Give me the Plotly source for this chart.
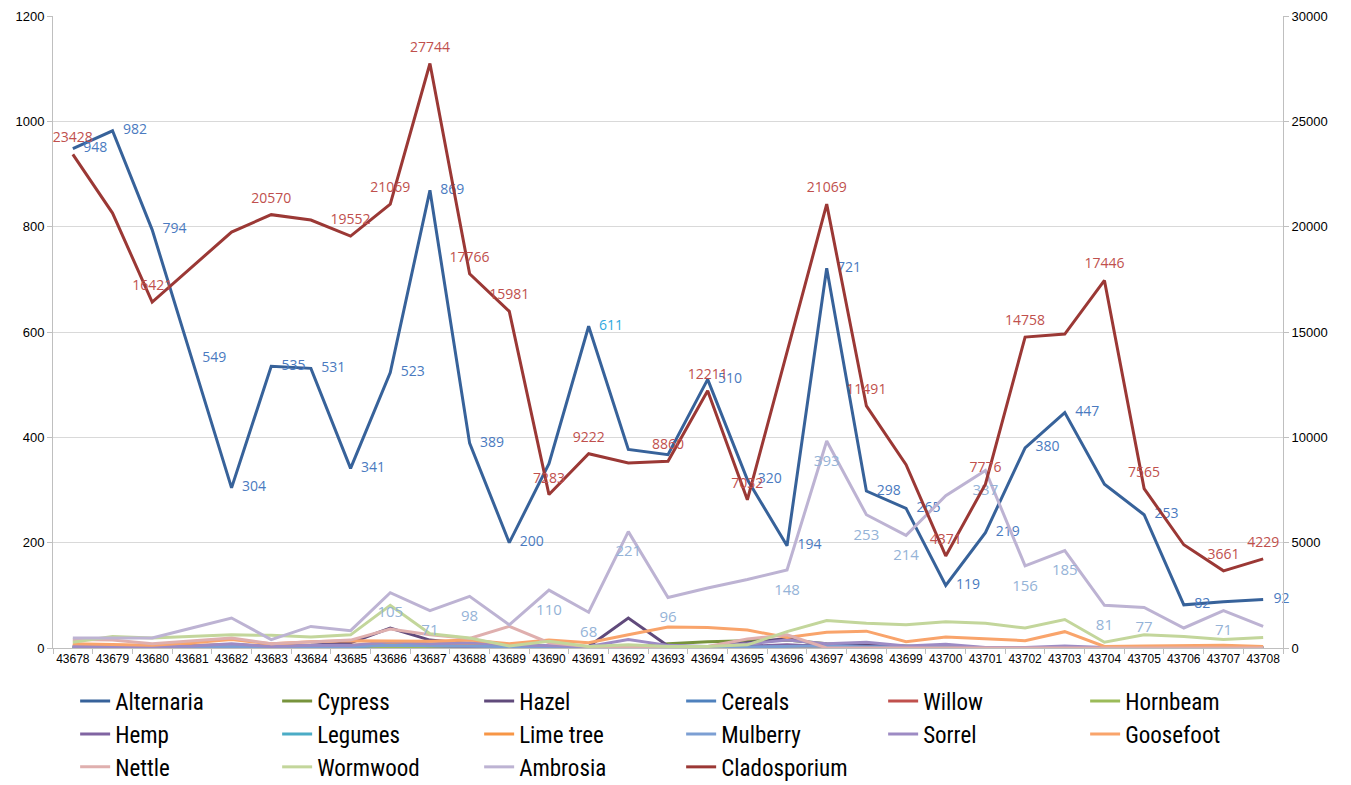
import plotly.graph_objects as go

days = [str(d) for d in range(43678, 43709)]

alternaria = [948, 982, 794, 549, 304, 535, 531, 341, 523, 869, 389, 200, 350, 611, 377, 367,
              510, 320, 194, 721, 298, 265, 119, 219, 380, 447, 311, 253, 82, 88, 92]
alternaria_unlabelled = ["43690", "43692", "43693", "43704", "43707"]

cypress = [0, 0, 0, 0, 0, 0, 0, 0, 0, 0, 0, 0, 0, 0, 0, 8, 12, 14, 15, 8, 5, 4, 1, 0, 0, 0, 0, 0, 0, 0, 0]
hazel = [3, 2, 2, 4, 6, 3, 5, 10, 38, 15, 8, 4, 3, 3, 57, 4, 2, 10, 18, 5, 6, 3, 2, 0, 0, 1, 0, 0, 0, 0, 0]
cereals = [2, 2, 1, 2, 3, 2, 2, 1, 3, 4, 3, 2, 2, 1, 2, 1, 1, 2, 3, 5, 3, 2, 1, 0, 0, 1, 0, 0, 0, 0, 0]
willow = [0, 0, 0, 0, 1, 0, 0, 0, 1, 1, 1, 0, 0, 0, 0, 0, 0, 0, 0, 0, 0, 0, 0, 0, 0, 0, 0, 0, 0, 0, 0]
hornbeam = [1, 1, 0, 1, 1, 1, 0, 1, 2, 1, 1, 1, 0, 0, 1, 0, 0, 1, 1, 1, 0, 0, 0, 0, 0, 0, 0, 0, 0, 0, 0]
hemp = [2, 1, 1, 2, 4, 2, 3, 3, 6, 4, 3, 2, 2, 1, 3, 1, 1, 4, 6, 3, 2, 1, 3, 0, 0, 1, 0, 0, 0, 1, 0]
legumes = [1, 1, 1, 1, 2, 1, 2, 2, 7, 6, 8, 4, 2, 1, 1, 0, 0, 1, 1, 0, 0, 0, 0, 0, 0, 0, 0, 0, 0, 0, 0]
lime_tree = [5, 4, 3, 5, 6, 4, 5, 5, 8, 6, 5, 3, 3, 2, 2, 1, 1, 1, 1, 1, 0, 0, 0, 0, 0, 0, 0, 0, 0, 0, 0]
mulberry = [2, 2, 1, 2, 3, 2, 3, 3, 5, 4, 4, 3, 2, 1, 2, 1, 1, 2, 3, 4, 2, 1, 1, 0, 0, 1, 0, 0, 0, 0, 0]
sorrel = [3, 3, 2, 4, 8, 3, 5, 5, 12, 8, 10, 6, 5, 3, 16, 5, 3, 8, 15, 8, 11, 4, 7, 1, 1, 4, 1, 1, 1, 2, 1]
goosefoot = [8, 7, 5, 10, 16, 8, 12, 14, 14, 13, 15, 8, 15, 10, 25, 40, 39, 34, 20, 30, 32, 12, 21, 17, 14, 31, 3, 4, 5, 5, 3]
nettle = [16, 15, 8, 13, 19, 8, 11, 15, 36, 25, 18, 41, 10, 3, 2, 2, 3, 17, 25, 0, 0, 0, 0, 0, 0, 0, 0, 0, 0, 0, 0]
wormwood = [11, 22, 19, 22, 25, 24, 21, 25, 81, 27, 19, 4, 13, 3, 6, 3, 3, 6, 31, 52, 47, 44, 50, 47, 38, 54, 11, 25, 22, 16, 20]
ambrosia = [19, 19, 19, 38, 57, 16, 41, 33, 105, 71, 98, 44, 110, 68, 221, 96, 114, 130, 148, 393,
            253, 214, 289, 337, 156, 185, 81, 77, 38, 71, 41]
ambrosia_labelled = ["43686", "43687", "43688", "43690", "43691", "43692", "43693", "43696", "43697",
                     "43698", "43699", "43701", "43702", "43703", "43704", "43705", "43707"]
cladosporium = [23428, 20645, 16421, 18100, 19744, 20570, 20313, 19552, 21069, 27744, 17766, 15981,
                7283, 9222, 8780, 8860, 12211, 7032, 14050, 21069, 11491, 8700, 4371, 7776, 14758,
                14900, 17446, 7565, 4900, 3661, 4229]
clado_unlabelled = ["43679", "43681", "43682", "43684", "43692", "43696", "43699", "43703", "43706"]

small_series = [
    ("Cypress", cypress, "#77933C"),
    ("Hazel", hazel, "#604A7B"),
    ("Cereals", cereals, "#4F81BD"),
    ("Willow", willow, "#C0504D"),
    ("Hornbeam", hornbeam, "#9BBB59"),
    ("Hemp", hemp, "#8064A2"),
    ("Legumes", legumes, "#4BACC6"),
    ("Lime tree", lime_tree, "#F79646"),
    ("Mulberry", mulberry, "#7C9FD3"),
    ("Sorrel", sorrel, "#9D8BC4"),
    ("Goosefoot", goosefoot, "#F9A46B"),
    ("Nettle", nettle, "#DFAFAE"),
    ("Wormwood", wormwood, "#C3D69B"),
]

label_font = "Open Sans, Noto Sans, sans-serif"
axis_font = "Liberation Sans, Arial, sans-serif"
CLEAR = "rgba(0,0,0,0)"
fig = go.Figure()

alt_text = ["" if d in alternaria_unlabelled else str(v) for v, d in zip(alternaria, days)]
alt_colors = ["#2FA8E0" if d == "43691" else "#4A7AC0" for d in days]
fig.add_trace(go.Scatter(
    x=days, y=alternaria, name="Alternaria", mode="lines+markers+text",
    line=dict(color="#37629A", width=3),
    marker=dict(size=15, color=CLEAR, line=dict(width=0)),
    text=alt_text, textposition="middle right", cliponaxis=False,
    textfont=dict(family=label_font, size=14, color=alt_colors),
))

for name, vals, col in small_series:
    fig.add_trace(go.Scatter(
        x=days, y=vals, name=name, mode="lines",
        line=dict(color=col, width=3),
    ))

amb_text = [str(v) if d in ambrosia_labelled else "" for v, d in zip(ambrosia, days)]
fig.add_trace(go.Scatter(
    x=days, y=ambrosia, name="Ambrosia", mode="lines+markers+text",
    line=dict(color="#BDB3D3", width=3),
    marker=dict(size=20, color=CLEAR, line=dict(width=0)),
    text=amb_text, textposition="bottom center", cliponaxis=False,
    textfont=dict(family=label_font, size=15, color="#95B3D7"),
))

clado_text = ["" if d in clado_unlabelled else str(v) for v, d in zip(cladosporium, days)]
fig.add_trace(go.Scatter(
    x=days, y=cladosporium, name="Cladosporium", mode="lines+markers+text", yaxis="y2",
    line=dict(color="#9B3835", width=3),
    marker=dict(size=12, color=CLEAR, line=dict(width=0)),
    text=clado_text, textposition="top center", cliponaxis=False,
    textfont=dict(family=label_font, size=14, color="#C0504D"),
))

fig.update_layout(
    width=1343, height=777,
    margin=dict(l=45, r=68, t=8, b=137, autoexpand=False),
    paper_bgcolor="white", plot_bgcolor="white",
    showlegend=True,
    font=dict(family=axis_font, color="black"),
    xaxis=dict(
        type="category", range=[-0.5, len(days) - 0.5], autorange=False,
        tickson="boundaries", ticks="outside", ticklen=5,
        tickcolor="#BFBFBF", showline=True, linecolor="#BFBFBF", linewidth=1,
        showgrid=False, tickfont=dict(size=12, color="black"), tickangle=0,
        automargin=False,
    ),
    yaxis=dict(
        range=[0, 1200], dtick=200, showgrid=True, gridcolor="#D9D9D9", gridwidth=1,
        showline=True, linecolor="#BFBFBF", ticks="outside", ticklen=5, tickcolor="#BFBFBF",
        tickfont=dict(size=13, color="black"), zeroline=False, automargin=False,
    ),
    yaxis2=dict(
        range=[0, 30000], dtick=5000, overlaying="y", side="right", showgrid=False,
        showline=True, linecolor="#BFBFBF", ticks="outside", ticklen=5, tickcolor="#BFBFBF",
        tickfont=dict(size=13, color="black"), zeroline=False, tickformat="d",
        automargin=False,
    ),
    legend=dict(
        orientation="h", x=0.018, xanchor="left", y=-0.05, yanchor="top",
        entrywidth=157, entrywidthmode="pixels",
        font=dict(family="Liberation Sans Narrow, Roboto Condensed, DejaVu Sans Condensed, sans-serif",
                  size=23, color="black"),
        tracegroupgap=0, itemwidth=30,
    ),
)

fig.write_html("out.html")
